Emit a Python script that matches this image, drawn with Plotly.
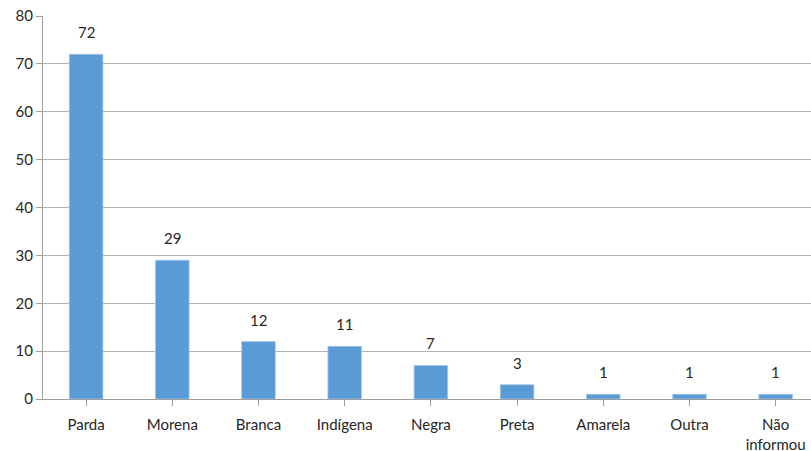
import plotly.graph_objects as go

categories = ["Parda", "Morena", "Branca", "Indígena", "Negra", "Preta", "Amarela", "Outra", "Não<br>informou"]
values = [72, 29, 12, 11, 7, 3, 1, 1, 1]
y_ticks = [0, 10, 20, 30, 40, 50, 60, 70, 80]

FONT = "Lato, Open Sans, sans-serif"
TEXT_COLOR = "#262626"
AXIS_COLOR = "#9E9E9E"

positions = list(range(len(categories)))

fig = go.Figure(
    go.Bar(
        x=positions,
        y=values,
        width=0.39,
        marker=dict(color="#5B9BD5", line=dict(color="#A9C8E8", width=0.8)),
        hoverinfo="x+y",
    )
)

# value labels floating above each bar
for pos, val in zip(positions, values):
    fig.add_annotation(
        x=pos,
        y=val,
        text=str(val),
        showarrow=False,
        yanchor="bottom",
        yshift=11,
        font=dict(family=FONT, size=15, color=TEXT_COLOR),
    )

fig.update_layout(
    width=811,
    height=451,
    margin=dict(l=43, r=0, t=16, b=52),
    plot_bgcolor="white",
    paper_bgcolor="white",
    showlegend=False,
)

fig.update_xaxes(
    tickmode="array",
    tickvals=positions,
    ticktext=categories,
    range=[-0.5, 8.41],
    automargin=False,
    showline=True,
    linecolor=AXIS_COLOR,
    linewidth=1,
    ticks="outside",
    tickson="boundaries",
    ticklen=6,
    tickcolor=AXIS_COLOR,
    ticklabelstandoff=6,
    showgrid=False,
    tickfont=dict(family=FONT, size=15, color=TEXT_COLOR),
)

fig.update_yaxes(
    range=[0, 80],
    tickvals=y_ticks,
    automargin=False,
    showline=True,
    linecolor=AXIS_COLOR,
    linewidth=1,
    ticks="outside",
    ticklen=6,
    tickcolor=AXIS_COLOR,
    showgrid=True,
    gridcolor="#B3B3B3",
    gridwidth=1,
    zeroline=False,
    tickfont=dict(family=FONT, size=15, color=TEXT_COLOR),
)

fig.write_html("out.html")
